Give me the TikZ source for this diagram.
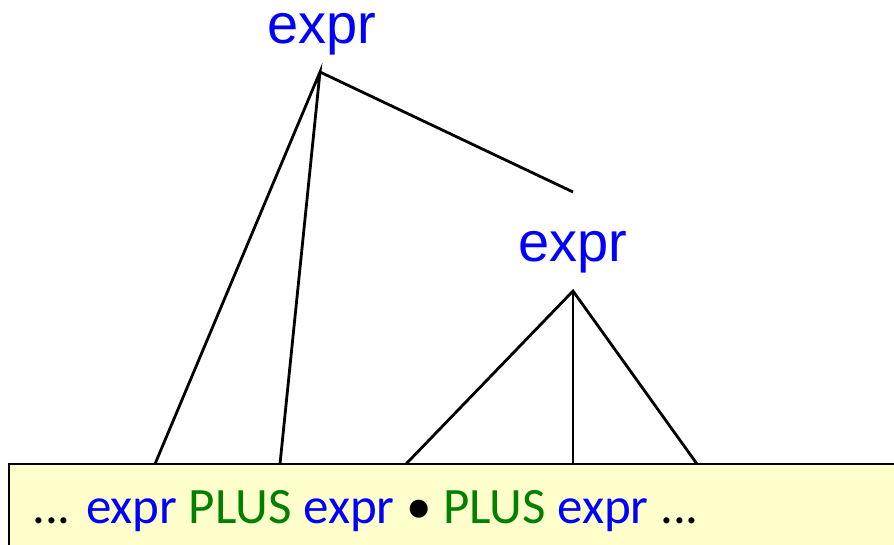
\documentclass[tikz,border=0pt]{standalone}
\usepackage{fontspec}
\setmainfont{Carlito}
\newfontfamily\treefont{Liberation Sans}
\definecolor{exprblue}{RGB}{0,0,255}
\definecolor{plusgreen}{RGB}{0,128,0}
\definecolor{boxyellow}{RGB}{255,255,204}
\newcommand{\ex}{\textcolor{exprblue}{expr}}
\newcommand{\pl}{\textcolor{plusgreen}{PLUS}}

\begin{document}
\begin{tikzpicture}[x=1pt,y=-1pt]
\useasboundingbox (0,0) rectangle (894,545);
\tikzset{every node/.style={inner sep=0pt},
  nonterm/.style={text=exprblue,font=\treefont\fontsize{56}{60}\selectfont,anchor=base},
  branch/.style={line width=2.8pt}}
% input box
\draw[fill=boxyellow,line width=2.2pt] (9,464) rectangle (910,570);
\node[anchor=base west,font=\fontsize{51}{60}\selectfont] (input) at (32,523)
  {... \ex\ \pl\ \ex\ \textbullet\ \pl\ \ex\ ...};
% tree
\node[nonterm] (top) at (322,44) {expr};
\node[nonterm] (sub) at (573,262) {expr};
\coordinate (topapex) at (320,72);
\coordinate (subapex) at (573,291);
\coordinate (topend) at (573,192);
\coordinate (a) at (155,464);
\coordinate (b) at (280,464);
\coordinate (c) at (406,464);
\coordinate (d) at (573,464);
\coordinate (e) at (697,464);
\draw [branch] (a) -- (topapex) -- (b);
\draw [branch] (topapex) -- (topend);
\draw [branch] (c) -- (subapex) -- (e);
\draw [branch] (subapex) -- (d);
\end{tikzpicture}
\end{document}
